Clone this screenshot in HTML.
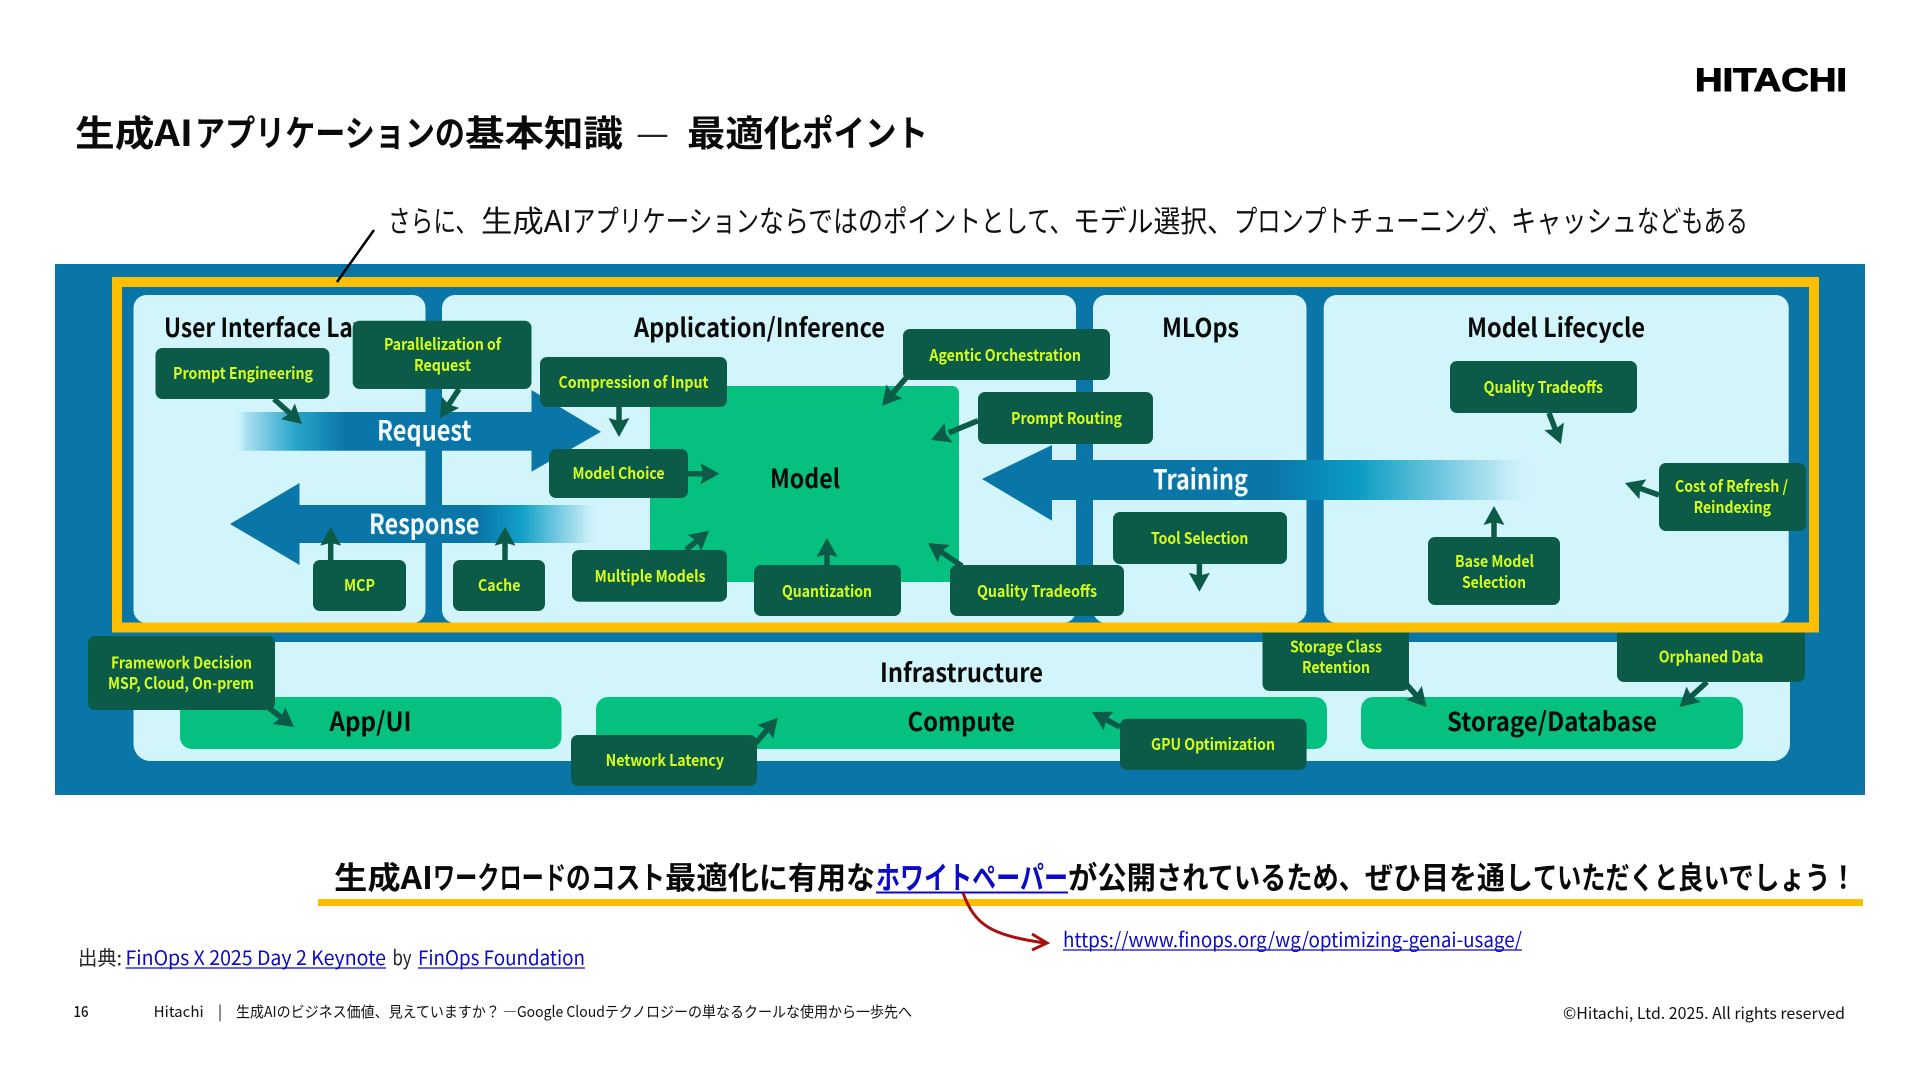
<!DOCTYPE html>
<html lang="ja"><head><meta charset="utf-8"><title>生成AIアプリケーションの基本知識</title>
<style>
html,body{margin:0;padding:0;background:#fff;width:1920px;height:1080px;overflow:hidden}
svg{display:block}
text{font-family:"Noto Sans CJK JP","Liberation Sans",sans-serif}
.t{font-size:16px;font-weight:700;fill:#d6ff1f;transform:translateY(1px)}
.h{font-size:26px;font-weight:700;fill:#0a0a0a}
.w{font-size:28px;font-weight:700;fill:#f4fbfd;transform:translateY(2.4px)}
.tag{fill:#0b5b48}
.p{fill:#d2f5fc}
.g{fill:#05c07f}
.c{stroke:#0b5b48;stroke-width:5.5;fill:none;stroke-dasharray:.62 1;marker-end:url(#ah)}
.l{fill:#0a0ac8}
.b{font-size:31px;font-weight:700;fill:#0a0a0a}
.s{font-size:30px;fill:#111}
.tt{font-size:36px;font-weight:700;fill:#0a0a0a}
</style></head><body>
<svg width="1920" height="1080" viewBox="0 0 1920 1080" xmlns="http://www.w3.org/2000/svg">
<defs>
<marker id="ah" markerUnits="userSpaceOnUse" markerWidth="24" markerHeight="24" refX="19" refY="12" orient="auto"><path d="M0 1.5L19 12L0 22.5L3 12Z" fill="#0b5b48"/></marker>
<linearGradient id="gReq" gradientUnits="userSpaceOnUse" x1="233" y1="0" x2="345" y2="0"><stop offset="0" stop-color="#d2f5fc" stop-opacity="0"/><stop offset=".12" stop-color="#a9dff0"/><stop offset=".55" stop-color="#2aa6cc"/><stop offset="1" stop-color="#0a76a8"/></linearGradient>
<linearGradient id="gRes" gradientUnits="userSpaceOnUse" x1="480" y1="0" x2="600" y2="0"><stop offset="0" stop-color="#0a76a8"/><stop offset=".35" stop-color="#12a0c8"/><stop offset=".85" stop-color="#b5e5f2"/><stop offset="1" stop-color="#d2f5fc" stop-opacity="0"/></linearGradient>
<linearGradient id="gTr" gradientUnits="userSpaceOnUse" x1="1270" y1="0" x2="1537" y2="0"><stop offset="0" stop-color="#0a76a8"/><stop offset=".33" stop-color="#0b9cc4"/><stop offset=".85" stop-color="#b5e5f2"/><stop offset="1" stop-color="#d2f5fc" stop-opacity="0"/></linearGradient>
</defs>
<rect width="1920" height="1080" fill="#fff"/>

<text x="1695" y="91" font-size="32" style="font-family:'Liberation Sans',sans-serif;font-weight:700" stroke="#000" stroke-width="1" textLength="152" lengthAdjust="spacingAndGlyphs">HITACHI</text>
<text class="tt" x="75" y="146" textLength="118" lengthAdjust="spacingAndGlyphs">生成AI</text>
<text class="tt" x="195" y="146" textLength="270" lengthAdjust="spacingAndGlyphs">アプリケーションの</text>
<text class="tt" x="465" y="146" textLength="158" lengthAdjust="spacingAndGlyphs">基本知識</text>
<text x="636" y="146" font-size="36" fill="#222" textLength="33" lengthAdjust="spacingAndGlyphs">—</text>
<text class="tt" x="687" y="146" textLength="115" lengthAdjust="spacingAndGlyphs">最適化</text>
<text class="tt" x="802" y="146" textLength="126" lengthAdjust="spacingAndGlyphs">ポイント</text>

<text class="s" x="388" y="232" textLength="90" lengthAdjust="spacingAndGlyphs">さらに、</text>
<text class="s" x="481" y="232" textLength="91" lengthAdjust="spacingAndGlyphs">生成AI</text>
<text class="s" x="572" y="232" textLength="187" lengthAdjust="spacingAndGlyphs">アプリケーション</text>
<text class="s" x="759" y="232" textLength="124" lengthAdjust="spacingAndGlyphs">ならではの</text>
<text class="s" x="883" y="232" textLength="98" lengthAdjust="spacingAndGlyphs">ポイント</text>
<text class="s" x="981" y="232" textLength="92" lengthAdjust="spacingAndGlyphs">として、</text>
<text class="s" x="1073" y="232" textLength="161" lengthAdjust="spacingAndGlyphs">モデル選択、</text>
<text class="s" x="1234" y="232" textLength="277" lengthAdjust="spacingAndGlyphs">プロンプトチューニング、</text>
<text class="s" x="1511" y="232" textLength="126" lengthAdjust="spacingAndGlyphs">キャッシュ</text>
<text class="s" x="1637" y="232" textLength="111" lengthAdjust="spacingAndGlyphs">などもある</text>

<!-- blue panel -->
<rect x="55" y="264" width="1810" height="531" fill="#0a76a8"/>
<!-- panels -->
<rect class="p" x="133.500" y="295" width="292" height="328" rx="13"/>
<rect class="p" x="442" y="295" width="634" height="328" rx="13"/>
<rect class="p" x="1093" y="295" width="213.500" height="328" rx="13"/>
<rect class="p" x="1323.700" y="295" width="465" height="328" rx="13"/>
<rect class="p" x="133.500" y="642" width="1656.500" height="119" rx="17"/>

<!-- section heads -->
<text class="h" x="164" y="337" textLength="225" lengthAdjust="spacingAndGlyphs">User Interface Layer</text>
<text class="h" x="634" y="337" textLength="251" lengthAdjust="spacingAndGlyphs">Application/Inference</text>
<text class="h" x="1162" y="337" textLength="77" lengthAdjust="spacingAndGlyphs">MLOps</text>
<text class="h" x="1467" y="337" textLength="178" lengthAdjust="spacingAndGlyphs">Model Lifecycle</text>
<text class="h" x="880" y="682" textLength="163" lengthAdjust="spacingAndGlyphs">Infrastructure</text>

<!-- model & infra bars -->
<rect class="g" x="650" y="386" width="309" height="196" rx="7"/>
<rect class="g" x="180" y="697" width="381.500" height="52" rx="12"/>
<rect class="g" x="596" y="697" width="731" height="52" rx="12"/>
<rect class="g" x="1361" y="697" width="382" height="52" rx="12"/>
<text class="h" x="770" y="488" textLength="70" lengthAdjust="spacingAndGlyphs">Model</text>
<text class="h" x="329.500" y="731" textLength="82" lengthAdjust="spacingAndGlyphs">App/UI</text>
<text class="h" x="907.500" y="731" textLength="107.500" lengthAdjust="spacingAndGlyphs">Compute</text>
<text class="h" x="1447" y="731" textLength="210" lengthAdjust="spacingAndGlyphs">Storage/Database</text>

<!-- big arrows -->
<path d="M233 412H531.500V390L601 431.700L531.500 471.700V450.700H233Z" fill="url(#gReq)"/>
<path d="M600 505H299.500V483L230 524L299.500 565V543H600Z" fill="url(#gRes)"/>
<path d="M1537 460H1052V445L982 479L1052 520.700V500H1537Z" fill="url(#gTr)"/>
<text class="w" x="377" y="438" textLength="94.500" lengthAdjust="spacingAndGlyphs">Request</text>
<text class="w" x="369" y="531.700" textLength="110.500" lengthAdjust="spacingAndGlyphs">Response</text>
<text class="w" x="1153" y="487" textLength="95" lengthAdjust="spacingAndGlyphs">Training</text>

<!-- tags -->
<rect class="tag" x="155.500" y="348" width="174" height="51" rx="7"/>
<rect class="tag" x="352.700" y="320.700" width="178.800" height="68.300" rx="7"/>
<rect class="tag" x="540" y="357" width="187" height="50" rx="7"/>
<rect class="tag" x="549" y="449" width="139" height="49" rx="7"/>
<rect class="tag" x="313" y="560" width="93" height="51" rx="7"/>
<rect class="tag" x="453" y="560" width="92" height="51" rx="7"/>
<rect class="tag" x="572" y="550" width="155" height="51.700" rx="7"/>
<rect class="tag" x="754" y="565" width="147" height="51" rx="7"/>
<rect class="tag" x="950" y="565" width="174" height="51" rx="7"/>
<rect class="tag" x="903" y="329" width="207" height="51" rx="7"/>
<rect class="tag" x="978" y="392" width="175" height="52" rx="7"/>
<rect class="tag" x="1113" y="512" width="174" height="52" rx="7"/>
<rect class="tag" x="1450" y="361" width="187" height="52" rx="7"/>
<rect class="tag" x="1428" y="537" width="132" height="68" rx="7"/>
<rect class="tag" x="1659" y="463" width="147" height="68" rx="7"/>
<rect class="tag" x="88" y="636" width="187" height="74" rx="7"/>
<rect class="tag" x="571" y="735" width="186" height="51" rx="7"/>
<rect class="tag" x="1262.500" y="625" width="146.500" height="66" rx="7"/>
<rect class="tag" x="1617" y="625" width="188" height="57" rx="7"/>
<rect class="tag" x="1120" y="718.700" width="186.600" height="51.300" rx="7"/>

<!-- small arrows -->
<path class="c" pathLength="1" d="M274 399L302 424"/>
<path class="c" pathLength="1" d="M459 389L440 418"/>
<path class="c" pathLength="1" d="M619 407V437"/>
<path class="c" pathLength="1" d="M688 473.700H719.500"/>
<path class="c" pathLength="1" d="M686 550L709 530.700"/>
<path class="c" pathLength="1" d="M827 565V538"/>
<path class="c" pathLength="1" d="M962 566L928 543"/>
<path class="c" pathLength="1" d="M906 378L882 405.700"/>
<path class="c" pathLength="1" d="M978 420.700L931 440"/>
<path class="c" pathLength="1" d="M1549 413L1561 444"/>
<path class="c" pathLength="1" d="M1199.400 564V591.700"/>
<path class="c" pathLength="1" d="M1494 537V506"/>
<path class="c" pathLength="1" d="M1659 495L1625 483"/>
<path class="c" pathLength="1" d="M330.700 560V526.700"/>
<path class="c" pathLength="1" d="M505 560V526.700"/>
<path class="c" pathLength="1" d="M269 708L294 727"/>
<path class="c" pathLength="1" d="M754 745L777.700 717.700"/>
<path class="c" pathLength="1" d="M1120 727L1092 712"/>
<path class="c" pathLength="1" d="M1407 685L1426.600 707"/>
<path class="c" pathLength="1" d="M1707 682L1679.500 707"/>

<!-- tag labels -->
<text class="t" x="173" y="378" textLength="140" lengthAdjust="spacingAndGlyphs">Prompt Engineering</text>
<text class="t" x="384" y="349" textLength="117" lengthAdjust="spacingAndGlyphs">Parallelization of</text>
<text class="t" x="414" y="370" textLength="57" lengthAdjust="spacingAndGlyphs">Request</text>
<text class="t" x="558.500" y="387" textLength="150" lengthAdjust="spacingAndGlyphs">Compression of Input</text>
<text class="t" x="572.500" y="478" textLength="92" lengthAdjust="spacingAndGlyphs">Model Choice</text>
<text class="t" x="344" y="590" textLength="31" lengthAdjust="spacingAndGlyphs">MCP</text>
<text class="t" x="478" y="590" textLength="42.500" lengthAdjust="spacingAndGlyphs">Cache</text>
<text class="t" x="594.600" y="581" textLength="111" lengthAdjust="spacingAndGlyphs">Multiple Models</text>
<text class="t" x="782" y="596" textLength="90" lengthAdjust="spacingAndGlyphs">Quantization</text>
<text class="t" x="977" y="596" textLength="120" lengthAdjust="spacingAndGlyphs">Quality Tradeoffs</text>
<text class="t" x="929.400" y="360" textLength="151.600" lengthAdjust="spacingAndGlyphs">Agentic Orchestration</text>
<text class="t" x="1011" y="423" textLength="111" lengthAdjust="spacingAndGlyphs">Prompt Routing</text>
<text class="t" x="1151" y="543" textLength="97.400" lengthAdjust="spacingAndGlyphs">Tool Selection</text>
<text class="t" x="1483.600" y="392" textLength="119.400" lengthAdjust="spacingAndGlyphs">Quality Tradeoffs</text>
<text class="t" x="1455" y="566" textLength="79" lengthAdjust="spacingAndGlyphs">Base Model</text>
<text class="t" x="1462" y="587" textLength="64" lengthAdjust="spacingAndGlyphs">Selection</text>
<text class="t" x="1675" y="491" textLength="113" lengthAdjust="spacingAndGlyphs">Cost of Refresh /</text>
<text class="t" x="1693.600" y="512" textLength="77.400" lengthAdjust="spacingAndGlyphs">Reindexing</text>
<text class="t" x="111" y="667.700" textLength="141" lengthAdjust="spacingAndGlyphs">Framework Decision</text>
<text class="t" x="108" y="688" textLength="146" lengthAdjust="spacingAndGlyphs">MSP, Cloud, On-prem</text>
<text class="t" x="605.600" y="765" textLength="118.400" lengthAdjust="spacingAndGlyphs">Network Latency</text>
<text class="t" x="1151" y="749" textLength="124" lengthAdjust="spacingAndGlyphs">GPU Optimization</text>
<text class="t" x="1290" y="651.700" textLength="92" lengthAdjust="spacingAndGlyphs">Storage Class</text>
<text class="t" x="1302" y="672" textLength="68" lengthAdjust="spacingAndGlyphs">Retention</text>
<text class="t" x="1658.700" y="661.700" textLength="104.700" lengthAdjust="spacingAndGlyphs">Orphaned Data</text>

<!-- yellow frame -->
<rect x="117" y="282" width="1697" height="345.500" fill="none" stroke="#fdbf00" stroke-width="10"/>
<line x1="374" y1="230" x2="337" y2="282" stroke="#000" stroke-width="2.500"/>

<!-- bottom statement -->
<text class="b" x="334" y="889" textLength="99" lengthAdjust="spacingAndGlyphs">生成AI</text>
<text class="b" x="433" y="889" textLength="133" lengthAdjust="spacingAndGlyphs">ワークロード</text>
<text class="b" x="566" y="889" textLength="99" lengthAdjust="spacingAndGlyphs">のコスト</text>
<text class="b" x="665" y="889" textLength="94" lengthAdjust="spacingAndGlyphs">最適化</text>
<text class="b" x="759" y="889" textLength="116" lengthAdjust="spacingAndGlyphs">に有用な</text>
<text class="l" x="876" y="889" font-size="31" font-weight="700" textLength="192" lengthAdjust="spacingAndGlyphs">ホワイトペーパー</text>
<text class="b" x="1068" y="889" textLength="88" lengthAdjust="spacingAndGlyphs">が公開</text>
<text class="b" x="1156" y="889" textLength="209" lengthAdjust="spacingAndGlyphs">されているため、</text>
<text class="b" x="1365" y="889" textLength="168" lengthAdjust="spacingAndGlyphs">ぜひ目を通し</text>
<text class="b" x="1533" y="889" textLength="145" lengthAdjust="spacingAndGlyphs">ていただくと</text>
<text class="b" x="1678" y="889" textLength="178" lengthAdjust="spacingAndGlyphs">良いでしょう！</text>
<line x1="876" y1="892.500" x2="1068" y2="892.500" stroke="#0a0ac8" stroke-width="2"/>
<rect x="318" y="899" width="1545" height="7" fill="#f9bf00"/>
<path d="M963 893C975 925 990 935 1045 943" fill="none" stroke="#a80f0f" stroke-width="3"/>
<path d="M1032 934L1047 943L1032 950" fill="none" stroke="#a80f0f" stroke-width="3"/>
<text class="l" x="1063" y="947" font-size="20" textLength="459" lengthAdjust="spacingAndGlyphs">https://www.finops.org/wg/optimizing-genai-usage/</text>
<line x1="1063" y1="950" x2="1522" y2="950" stroke="#0a0ac8" stroke-width="1.300"/>

<!-- source -->
<text x="78" y="965" font-size="20" fill="#222" textLength="44" lengthAdjust="spacingAndGlyphs">出典:</text>
<text class="l" x="125.500" y="965" font-size="20" textLength="260.500" lengthAdjust="spacingAndGlyphs">FinOps X 2025 Day 2 Keynote</text>
<line x1="125.500" y1="968" x2="386" y2="968" stroke="#0a0ac8" stroke-width="1.300"/>
<text x="392.500" y="965" font-size="20" fill="#222" textLength="19" lengthAdjust="spacingAndGlyphs">by</text>
<text class="l" x="418" y="965" font-size="20" textLength="167" lengthAdjust="spacingAndGlyphs">FinOps Foundation</text>
<line x1="418" y1="968" x2="585" y2="968" stroke="#0a0ac8" stroke-width="1.300"/>

<!-- footer -->
<text x="73.500" y="1017" font-size="15" font-weight="500" fill="#111" textLength="15" lengthAdjust="spacingAndGlyphs">16</text>
<text x="153.700" y="1017" font-size="15" fill="#111" textLength="50" lengthAdjust="spacingAndGlyphs">Hitachi</text>
<text x="218" y="1017" font-size="15" fill="#111">|</text>
<text x="236" y="1017" font-size="15" fill="#111" textLength="676" lengthAdjust="spacingAndGlyphs">生成AIのビジネス価値、見えていますか？ —Google Cloudテクノロジーの単なるクールな使用から一歩先へ</text>
<text x="1563" y="1019" font-size="16" fill="#111" textLength="282" lengthAdjust="spacingAndGlyphs">©Hitachi, Ltd. 2025. All rights reserved</text>
</svg>
</body></html>
